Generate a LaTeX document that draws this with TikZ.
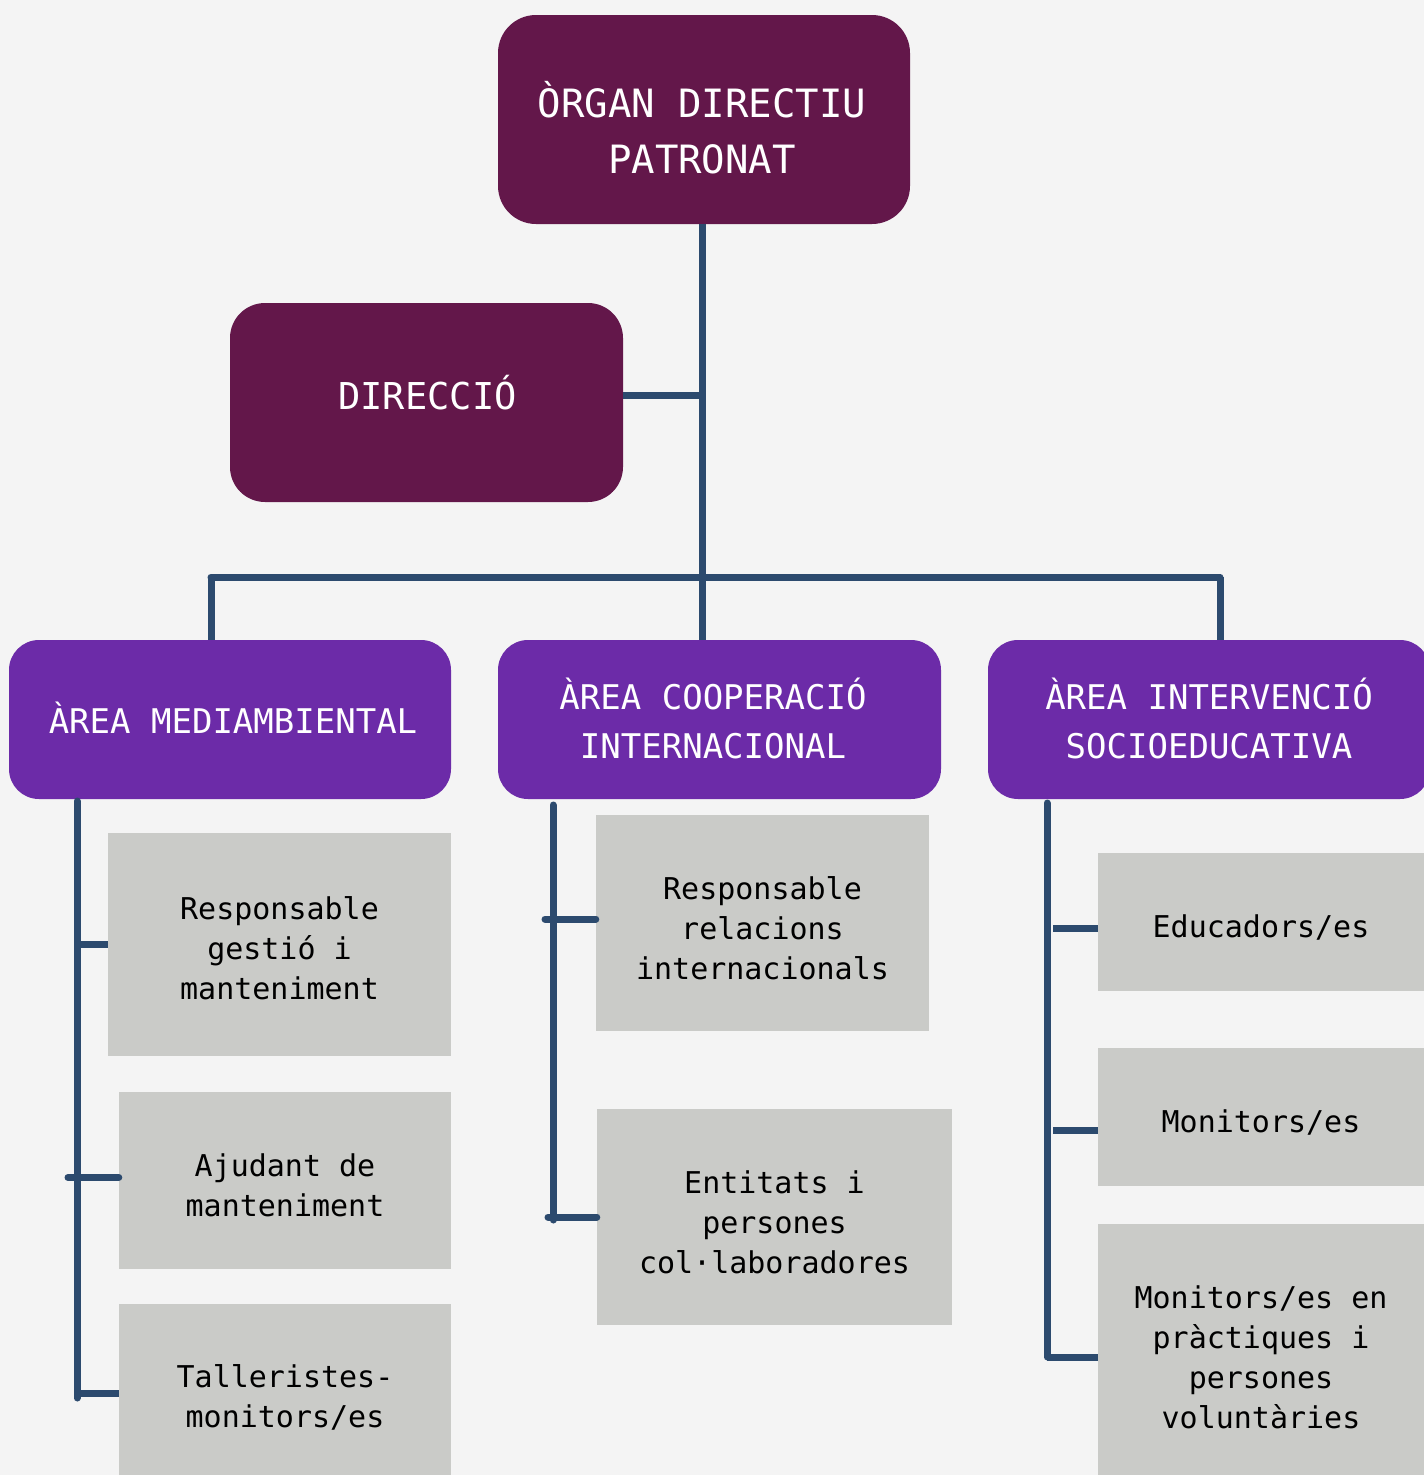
\documentclass[tikz,border=0pt]{standalone}
\usepackage{fontspec}
\setmainfont{DejaVu Sans Mono}
\usetikzlibrary{calc}
\definecolor{bg}{RGB}{244,244,244}
\definecolor{plum}{RGB}{99,23,74}
\definecolor{violet}{RGB}{108,43,168}
\definecolor{link}{RGB}{44,74,110}
\definecolor{greybox}{RGB}{202,203,200}
\newcommand\lowered[2]{\raisebox{-#1}[\height][\depth]{\begin{tabular}{@{}c@{}}#2\end{tabular}}}
\newcommand\lowone[2]{\raisebox{-#1}[\height][\depth]{#2}}
\tikzset{
  plumbox/.style={rectangle, rounded corners=38pt, fill=plum, inner sep=0pt},
  areabox/.style={rectangle, rounded corners=30pt, fill=violet, inner sep=0pt, minimum height=159pt},
  itembox/.style={rectangle, fill=greybox, inner sep=0pt, align=center, text=black,
    font=\fontsize{30}{40}\selectfont},
  toptxt/.style={text=white, align=center, inner sep=0pt, font=\fontsize{39}{56}\selectfont},
  areatxt/.style={text=white, align=center, inner sep=0pt, font=\fontsize{34}{49}\selectfont},
  conn/.style={draw=link, line width=7pt, line cap=round}
}
\begin{document}
\begin{tikzpicture}[x=1pt,y=-1pt]
\path[use as bounding box, fill=bg] (0,0) rectangle (1424,1475);

% top level boxes
\node[plumbox, minimum width=412pt, minimum height=209pt] (top) at (704,119.5) {};
\node[toptxt] (topT) at (702,128) {ÒRGAN DIRECTIU\\PATRONAT};
\node[plumbox, rounded corners=35pt, minimum width=393pt, minimum height=199pt] (dir) at (426.5,402.5) {};
\node[toptxt, font=\fontsize{37}{50}\selectfont] (dirT) at (427.5,393) {DIRECCIÓ};

% area boxes
\node[areabox, minimum width=442pt] (medA) at (230,719.5) {};
\node[areatxt] (medT) at (233,718) {ÀREA MEDIAMBIENTAL};
\node[areabox, minimum width=443pt] (coopA) at (719.5,719.5) {};
\node[areatxt] (coopT) at (713,718) {ÀREA COOPERACIÓ\\INTERNACIONAL};
\node[areabox, minimum width=442pt] (intA) at (1209,719.5) {};
\node[areatxt] (intT) at (1209,718) {ÀREA INTERVENCIÓ\\SOCIOEDUCATIVA};

% item boxes
\node[itembox, minimum width=343pt, minimum height=223pt] (m1) at (279.5,944.5) {\lowered{7pt}{Responsable\\gestió i\\manteniment}};
\node[itembox, minimum width=332pt, minimum height=177pt] (m2) at (285,1180.5) {\lowered{8pt}{Ajudant de\\manteniment}};
\node[itembox, minimum width=332pt, minimum height=186pt] (m3) at (285,1397) {Talleristes-\\monitors/es};
\node[itembox, minimum width=333pt, minimum height=216pt] (c1) at (762.5,923) {\lowered{8pt}{Responsable\\relacions\\internacionals}};
\node[itembox, minimum width=355pt, minimum height=216pt] (c2) at (774.5,1217) {\lowered{8pt}{Entitats i\\persones\\col·laboradores}};
\node[itembox, minimum width=326pt, minimum height=138pt] (i1) at (1261,922) {\lowone{5pt}{Educadors/es}};
\node[itembox, minimum width=326pt, minimum height=138pt] (i2) at (1261,1117) {\lowone{5pt}{Monitors/es}};
\node[itembox, minimum width=326pt, minimum height=266pt] (i3) at (1261,1357) {Monitors/es en\\pràctiques i\\persones\\voluntàries};

% junction coordinates
\coordinate (spine) at (702,577);
\coordinate (busL) at (211,577);
\coordinate (busR) at (1220,577);
\coordinate (mTop) at (77,801);
\coordinate (mEnd) at (77,1398);
\coordinate (cTop) at (553,805);
\coordinate (cEnd) at (553,1220);
\coordinate (iTop) at (1047,803);
\coordinate (iEnd) at (1047,1357);

% connectors
\draw[conn, line cap=butt] (spine |- top.south) -- (spine |- coopA.north);
\draw[conn, line cap=butt] ([yshift=7.5pt]dir.east) -- ([yshift=7.5pt]dir.east -| spine);
\draw[conn] (busL) -- (busR);
\draw[conn, line cap=butt] (busL) -- (busL |- medA.north);
\draw[conn, line cap=butt] (busR) -- (busR |- intA.north);

\draw[conn] (mTop) -- (mEnd);
\draw[conn, line cap=butt] (m1.west) -- (m1.west -| mTop);
\draw[conn] ([yshift=3pt]m2.west) -- ([xshift=-9pt,yshift=3pt]m2.west -| mTop);
\draw[conn, line cap=butt] ([yshift=4pt]m3.west) -- ([yshift=4pt]m3.west -| mTop);

\draw[conn] (cTop) -- (cEnd);
\draw[conn] ([yshift=4pt]c1.west) -- ([xshift=-8pt,yshift=4pt]c1.west -| cTop);
\draw[conn] (c2.west) -- ([xshift=-5pt]c2.west -| cTop);

\draw[conn] (iTop) -- (iEnd);
\draw[conn, line cap=butt] ([yshift=-6pt]i1.west) -- ([xshift=6pt,yshift=-6pt]i1.west -| iTop);
\draw[conn, line cap=butt] ([yshift=-13pt]i2.west) -- ([xshift=6pt,yshift=-13pt]i2.west -| iTop);
\draw[conn, line cap=butt] (i3.west) -- (i3.west -| iTop);
\end{tikzpicture}
\end{document}
